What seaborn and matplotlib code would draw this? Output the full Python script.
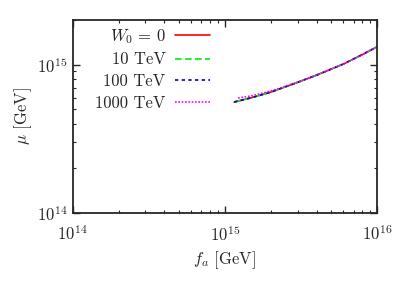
import numpy as np
import pandas as pd
import matplotlib
matplotlib.use("Agg")
import matplotlib.pyplot as plt
import seaborn as sns

# values (GeV)
fa_base = [1.15e15, 1.5e15, 2e15, 3e15, 4e15, 6e15, 8e15, 1e16]
mu_w0 = [5.6e14, 6.0e14, 6.53e14, 7.6e14, 8.5e14, 1.01e15, 1.17e15, 1.32e15]
mu_10 = [5.6e14, 6.0e14, 6.53e14, 7.6e14, 8.5e14, 1.01e15, 1.17e15, 1.32e15]
mu_100 = [5.6e14, 6.0e14, 6.53e14, 7.6e14, 8.5e14, 1.01e15, 1.17e15, 1.32e15]
fa_1000 = [1.22e15, 1.5e15, 2e15, 3e15, 4e15, 6e15, 8e15, 1e16]
mu_1000 = [5.96e14, 6.17e14, 6.65e14, 7.62e14, 8.5e14, 1.01e15, 1.17e15, 1.32e15]

labels = [r"$W_0 \,=\, 0$", "10 TeV", "100 TeV", "1000 TeV"]
colors = ["#ff0000", "#00ee00", "#0000cc", "#ff00ff"]
styles = ["-", (0, (4, 2)), (0, (2, 2)), (0, (1, 1))]

sns.set_theme(style="ticks")
plt.rcParams["font.family"] = "serif"
plt.rcParams["font.serif"] = ["cmr10"]
plt.rcParams["mathtext.fontset"] = "cm"
plt.rcParams["axes.formatter.use_mathtext"] = True
plt.rcParams["axes.unicode_minus"] = False

fig = plt.figure(figsize=(4.09, 2.86), dpi=100)
ax = fig.add_axes([0.178, 0.255, 0.744, 0.675])

series = [(fa_base, mu_w0), (fa_base, mu_10), (fa_base, mu_100), (fa_1000, mu_1000)]
for (xs, ys), lab, c, ls in zip(series, labels, colors, styles):
    df = pd.DataFrame({"fa": xs, "mu": ys})
    sns.lineplot(data=df, x="fa", y="mu", ax=ax, color=c, linestyle=ls,
                 linewidth=1.2, label=lab)

ax.set_xscale("log")
ax.set_yscale("log")
ax.set_xlim(1e14, 1e16)
ax.set_ylim(1e14, 2e15)
ax.set_xlabel(r"$f_a$ [GeV]", fontsize=12, labelpad=4)
ax.set_ylabel(r"$\mu$ [GeV]", fontsize=12, labelpad=2)
ax.tick_params(which="both", direction="in", top=True, right=True, labelsize=12)
ax.tick_params(which="major", length=5, width=1)
ax.tick_params(which="minor", length=2.5, width=0.8)
ax.tick_params(axis="x", pad=8)
for s in ax.spines.values():
    s.set_linewidth(1.3)

ax.legend(loc="upper left", bbox_to_anchor=(0.035, 1.025), frameon=False,
          markerfirst=False, fontsize=12, handlelength=2.1, labelspacing=0.38,
          handletextpad=0.6, borderaxespad=0.3)

fig.savefig("out.png", dpi=100)
